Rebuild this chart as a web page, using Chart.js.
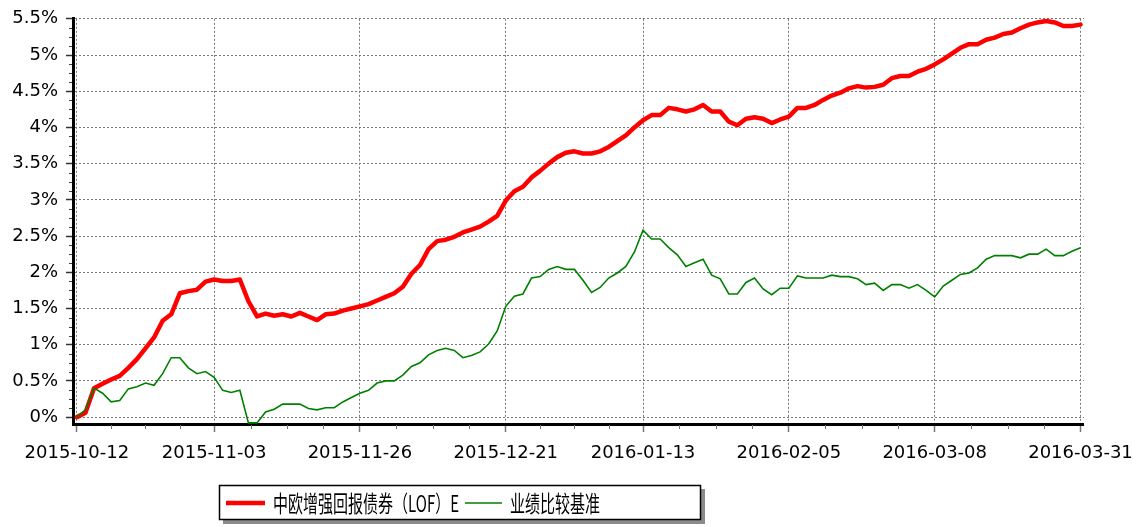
<!DOCTYPE html>
<html><head><meta charset="utf-8">
<script src="https://cdn.jsdelivr.net/npm/chart.js@4.4.1/dist/chart.umd.min.js"></script>
<style>html,body{margin:0;padding:0;background:#fff;overflow:hidden}canvas{display:block}</style>
</head><body>
<canvas id="c" width="1144" height="527"></canvas>
<script>
// Trading days (categories)
const dates = [
'2015-10-12','2015-10-13','2015-10-14','2015-10-15','2015-10-16','2015-10-19','2015-10-20','2015-10-21','2015-10-22','2015-10-23',
'2015-10-26','2015-10-27','2015-10-28','2015-10-29','2015-10-30',
'2015-11-02','2015-11-03','2015-11-04','2015-11-05','2015-11-06','2015-11-09','2015-11-10','2015-11-11','2015-11-12','2015-11-13',
'2015-11-16','2015-11-17','2015-11-18','2015-11-19','2015-11-20','2015-11-23','2015-11-24','2015-11-25','2015-11-26','2015-11-27','2015-11-30',
'2015-12-01','2015-12-02','2015-12-03','2015-12-04','2015-12-07','2015-12-08','2015-12-09','2015-12-10','2015-12-11','2015-12-14',
'2015-12-15','2015-12-16','2015-12-17','2015-12-18','2015-12-21','2015-12-22','2015-12-23','2015-12-24','2015-12-25','2015-12-28',
'2015-12-29','2015-12-30','2015-12-31',
'2016-01-04','2016-01-05','2016-01-06','2016-01-07','2016-01-08','2016-01-11','2016-01-12','2016-01-13','2016-01-14','2016-01-15',
'2016-01-18','2016-01-19','2016-01-20','2016-01-21','2016-01-22','2016-01-25','2016-01-26','2016-01-27','2016-01-28','2016-01-29',
'2016-02-01','2016-02-02','2016-02-03','2016-02-04','2016-02-05','2016-02-15','2016-02-16','2016-02-17','2016-02-18','2016-02-19',
'2016-02-22','2016-02-23','2016-02-24','2016-02-25','2016-02-26','2016-02-29',
'2016-03-01','2016-03-02','2016-03-03','2016-03-04','2016-03-07','2016-03-08','2016-03-09','2016-03-10','2016-03-11','2016-03-14',
'2016-03-15','2016-03-16','2016-03-17','2016-03-18','2016-03-21','2016-03-22','2016-03-23','2016-03-24','2016-03-25','2016-03-28',
'2016-03-29','2016-03-30','2016-03-31'
];
const xTickDates = ['2015-10-12','2015-11-03','2015-11-26','2015-12-21','2016-01-13','2016-02-05','2016-03-08','2016-03-31'];
const yTicks = [0,0.5,1,1.5,2,2.5,3,3.5,4,4.5,5,5.5];
const yTickLabels = ['0%','0.5%','1%','1.5%','2%','2.5%','3%','3.5%','4%','4.5%','5%','5.5%'];
const seriesNames = ['中欧增强回报债券（LOF）E','业绩比较基准'];

// Cumulative return, %
const fundReturn = [
0.00,0.06,0.40,0.46,0.52,0.57,0.68,0.80,0.95,1.10,
1.33,1.42,1.71,1.74,1.76,1.87,1.90,1.88,1.88,1.90,
1.60,1.39,1.43,1.40,1.42,1.39,1.44,1.39,1.34,1.42,
1.43,1.47,1.50,1.53,1.56,1.61,1.66,1.71,1.80,1.98,
2.10,2.32,2.43,2.45,2.49,2.55,2.59,2.63,2.70,2.78,
2.99,3.12,3.18,3.31,3.40,3.50,3.59,3.65,3.67,3.64,
3.64,3.67,3.73,3.81,3.89,4.00,4.10,4.17,4.17,4.27,
4.25,4.22,4.25,4.31,4.22,4.22,4.08,4.03,4.12,4.14,
4.12,4.06,4.11,4.15,4.27,4.27,4.31,4.38,4.44,4.48,
4.54,4.57,4.55,4.56,4.59,4.68,4.71,4.71,4.77,4.81,
4.87,4.94,5.02,5.10,5.15,5.15,5.21,5.24,5.29,5.31,
5.37,5.42,5.45,5.47,5.45,5.40,5.40,5.42
];
const benchmarkReturn = [
0.00,0.10,0.40,0.33,0.21,0.23,0.39,0.42,0.47,0.44,
0.60,0.82,0.82,0.68,0.60,0.63,0.55,0.37,0.34,0.37,
-0.08,-0.08,0.07,0.11,0.18,0.18,0.18,0.12,0.10,0.13,
0.13,0.21,0.27,0.33,0.37,0.47,0.50,0.50,0.58,0.70,
0.75,0.86,0.92,0.95,0.92,0.82,0.85,0.90,1.01,1.19,
1.53,1.67,1.70,1.92,1.94,2.04,2.08,2.04,2.04,1.89,
1.72,1.79,1.92,1.99,2.08,2.28,2.58,2.46,2.46,2.34,
2.24,2.08,2.13,2.18,1.96,1.91,1.70,1.70,1.86,1.92,
1.77,1.69,1.78,1.78,1.95,1.92,1.92,1.92,1.96,1.94,
1.94,1.91,1.83,1.85,1.75,1.83,1.83,1.78,1.83,1.75,
1.66,1.81,1.89,1.97,1.99,2.06,2.18,2.23,2.23,2.23,
2.20,2.25,2.25,2.32,2.23,2.23,2.29,2.34
];

const majorIdx = xTickDates.map(d => dates.indexOf(d));
const FONT = 'DejaVu Sans';
const CJK = '"Noto Sans CJK SC", "Noto Sans", sans-serif';

const minorTicks = {
  id: 'minorTicks',
  afterDraw(chart) {
    const {ctx, chartArea: a, scales: {x, y}} = chart;
    ctx.save();
    ctx.lineWidth = 1;
    ctx.strokeStyle = '#777';
    for (let k = 0; k < majorIdx.length - 1; k++) {
      for (let j = 1; j < 4; j++) {
        const px = Math.round(x.getPixelForValue(majorIdx[k] + (majorIdx[k+1] - majorIdx[k]) * j / 4)) + 0.5;
        ctx.beginPath(); ctx.moveTo(px, a.bottom + 1); ctx.lineTo(px, a.bottom + 5); ctx.stroke();
      }
    }
    ctx.strokeStyle = '#444';
    for (let k = 0; k < yTicks.length - 1; k++) {
      for (let j = 1; j < 4; j++) {
        const py = Math.round(y.getPixelForValue(yTicks[k] + (yTicks[k+1] - yTicks[k]) * j / 4)) + 0.5;
        ctx.beginPath(); ctx.moveTo(a.left - 4, py); ctx.lineTo(a.left - 1, py); ctx.stroke();
      }
    }
    ctx.restore();
  }
};

function stretchedText(ctx, text, x, cy, targetW, sy) {
  const w = ctx.measureText(text).width;
  const sx = targetW ? Math.min(1.1, targetW / w) : 1;
  ctx.save();
  ctx.translate(x, cy);
  ctx.scale(sx, sy);
  ctx.textBaseline = 'middle';
  ctx.textAlign = 'left';
  ctx.fillText(text, 0, 0);
  ctx.restore();
}

const boxLegend = {
  id: 'boxLegend',
  afterDraw(chart) {
    const ctx = chart.ctx;
    const bx = 219, by = 485, bw = 482, bh = 35;
    ctx.save();
    ctx.fillStyle = '#8c8c8c';
    ctx.fillRect(bx + 4, by + 4, bw, bh);
    ctx.fillStyle = '#fff';
    ctx.fillRect(bx, by, bw, bh);
    ctx.strokeStyle = '#000';
    ctx.lineWidth = 1.5;
    ctx.strokeRect(bx + 0.5, by + 0.5, bw - 1, bh - 1);
    const cy = 503;
    const ds = chart.data.datasets;
    ctx.strokeStyle = ds[0].borderColor; ctx.lineWidth = ds[0].borderWidth;
    ctx.beginPath(); ctx.moveTo(226, cy); ctx.lineTo(265, cy); ctx.stroke();
    ctx.fillStyle = '#000';
    ctx.font = '16px ' + CJK;
    stretchedText(ctx, ds[0].label, 273, cy, 186, 1.42);
    ctx.strokeStyle = ds[1].borderColor; ctx.lineWidth = ds[1].borderWidth;
    ctx.beginPath(); ctx.moveTo(465, cy); ctx.lineTo(502, cy); ctx.stroke();
    stretchedText(ctx, ds[1].label, 510, cy, 90, 1.42);
    ctx.restore();
  }
};

const whiteBg = {
  id: 'whiteBg',
  beforeDraw(chart) {
    const ctx = chart.ctx;
    ctx.save(); ctx.fillStyle = '#fff'; ctx.fillRect(0, 0, chart.width, chart.height); ctx.restore();
  }
};

new Chart(document.getElementById('c').getContext('2d'), {
  type: 'line',
  data: {
    datasets: [
      { label: seriesNames[0], data: fundReturn.map((v, i) => ({x: i, y: v})),
        borderColor: '#ff0000', backgroundColor: '#ff0000', borderWidth: 4.5,
        pointRadius: 0, tension: 0, order: 1, borderJoinStyle: 'round', borderCapStyle: 'round' },
      { label: seriesNames[1], data: benchmarkReturn.map((v, i) => ({x: i, y: v})),
        borderColor: '#008000', backgroundColor: '#008000', borderWidth: 1.6,
        pointRadius: 0, tension: 0, order: 0 }
    ]
  },
  options: {
    responsive: false,
    animation: false,
    devicePixelRatio: 1,
    layout: { padding: { top: 15, right: 54, bottom: 0, left: 0 } },
    plugins: { legend: { display: false }, tooltip: { enabled: false } },
    scales: {
      x: {
        type: 'linear', min: -0.45, max: 117.4,
        afterBuildTicks: s => { s.ticks = majorIdx.map(v => ({value: v})); },
        afterFit: s => { s.height = 103; },
        ticks: { autoSkip: false, maxRotation: 0, minRotation: 0, color: '#000',
                 font: { family: FONT, size: 18 }, padding: 11,
                 callback: v => dates[v] },
        grid: { color: '#787878', lineWidth: 1, tickLength: 8, tickColor: '#777', tickWidth: 1.5 },
        border: { display: true, color: '#000', width: 3, dash: [2, 2] }
      },
      y: {
        min: -0.095, max: 5.5,
        afterBuildTicks: s => { s.ticks = yTicks.map(v => ({value: v})); },
        afterFit: s => { s.width = 73; },
        ticks: { color: '#000', font: { family: FONT, size: 18 }, padding: 8,
                 callback: v => yTickLabels[yTicks.indexOf(v)] },
        grid: { color: '#787878', lineWidth: 1, tickLength: 7, tickColor: '#333', tickWidth: 1.5 },
        border: { display: true, color: '#000', width: 3, dash: [2, 2] }
      }
    }
  },
  plugins: [whiteBg, minorTicks, boxLegend]
});
</script>
</body></html>
